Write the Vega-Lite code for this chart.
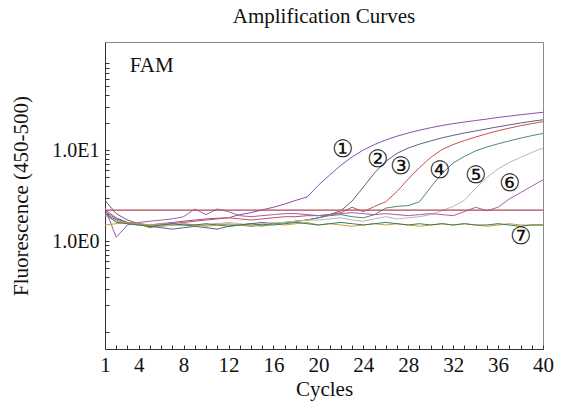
{
  "$schema": "https://vega.github.io/schema/vega-lite/v6.json",
  "width": 438,
  "height": 307,
  "autosize": {"type": "none"},
  "padding": {"left": 105, "top": 42, "right": 20, "bottom": 54},
  "background": "white",
  "config": {
    "font": "Liberation Serif",
    "view": {"stroke": "#8a8a8a", "strokeWidth": 1},
    "axis": {"grid": false, "domainColor": "#333333", "tickColor": "#333333", "labelColor": "#111111", "titleColor": "#111111", "labelFont": "Liberation Serif", "titleFont": "Liberation Serif", "titleFontWeight": "normal"}
  },
  "title": {"text": "Amplification Curves", "fontSize": 21, "fontWeight": "normal", "font": "Liberation Serif", "color": "#111111", "anchor": "middle", "offset": 15},
  "datasets": {
    "curves": [
      {"curve":"1","cycle":1,"f":2.1},{"curve":"1","cycle":2,"f":1.75},{"curve":"1","cycle":3,"f":1.6},{"curve":"1","cycle":4,"f":1.55},{"curve":"1","cycle":5,"f":1.5},{"curve":"1","cycle":6,"f":1.55},{"curve":"1","cycle":7,"f":1.6},{"curve":"1","cycle":8,"f":1.65},{"curve":"1","cycle":9,"f":1.7},{"curve":"1","cycle":10,"f":1.75},{"curve":"1","cycle":11,"f":1.78},{"curve":"1","cycle":12,"f":1.8},{"curve":"1","cycle":13,"f":1.95},{"curve":"1","cycle":14,"f":2.05},{"curve":"1","cycle":15,"f":2.2},{"curve":"1","cycle":16,"f":2.35},{"curve":"1","cycle":17,"f":2.55},{"curve":"1","cycle":18,"f":2.8},{"curve":"1","cycle":19,"f":3.05},{"curve":"1","cycle":20,"f":4.1},{"curve":"1","cycle":21,"f":5.3},{"curve":"1","cycle":22,"f":6.8},{"curve":"1","cycle":23,"f":8.4},{"curve":"1","cycle":24,"f":10.0},{"curve":"1","cycle":25,"f":11.5},{"curve":"1","cycle":26,"f":12.9},{"curve":"1","cycle":27,"f":14.2},{"curve":"1","cycle":28,"f":15.4},{"curve":"1","cycle":29,"f":16.5},{"curve":"1","cycle":30,"f":17.6},{"curve":"1","cycle":31,"f":18.6},{"curve":"1","cycle":32,"f":19.5},{"curve":"1","cycle":33,"f":20.3},{"curve":"1","cycle":34,"f":21.1},{"curve":"1","cycle":35,"f":21.9},{"curve":"1","cycle":36,"f":22.8},{"curve":"1","cycle":37,"f":23.6},{"curve":"1","cycle":38,"f":24.4},{"curve":"1","cycle":39,"f":25.2},{"curve":"1","cycle":40,"f":26.0},
      {"curve":"2","cycle":1,"f":2.8},{"curve":"2","cycle":2,"f":2.0},{"curve":"2","cycle":3,"f":1.7},{"curve":"2","cycle":4,"f":1.55},{"curve":"2","cycle":5,"f":1.45},{"curve":"2","cycle":6,"f":1.4},{"curve":"2","cycle":7,"f":1.35},{"curve":"2","cycle":8,"f":1.4},{"curve":"2","cycle":9,"f":1.45},{"curve":"2","cycle":10,"f":1.4},{"curve":"2","cycle":11,"f":1.35},{"curve":"2","cycle":12,"f":1.45},{"curve":"2","cycle":13,"f":1.5},{"curve":"2","cycle":14,"f":1.55},{"curve":"2","cycle":15,"f":1.6},{"curve":"2","cycle":16,"f":1.55},{"curve":"2","cycle":17,"f":1.6},{"curve":"2","cycle":18,"f":1.65},{"curve":"2","cycle":19,"f":1.7},{"curve":"2","cycle":20,"f":1.8},{"curve":"2","cycle":21,"f":1.95},{"curve":"2","cycle":22,"f":2.15},{"curve":"2","cycle":23,"f":2.75},{"curve":"2","cycle":24,"f":3.9},{"curve":"2","cycle":25,"f":5.6},{"curve":"2","cycle":26,"f":7.5},{"curve":"2","cycle":27,"f":9.2},{"curve":"2","cycle":28,"f":10.5},{"curve":"2","cycle":29,"f":11.6},{"curve":"2","cycle":30,"f":12.6},{"curve":"2","cycle":31,"f":13.6},{"curve":"2","cycle":32,"f":14.5},{"curve":"2","cycle":33,"f":15.4},{"curve":"2","cycle":34,"f":16.2},{"curve":"2","cycle":35,"f":17.1},{"curve":"2","cycle":36,"f":18.0},{"curve":"2","cycle":37,"f":18.9},{"curve":"2","cycle":38,"f":19.8},{"curve":"2","cycle":39,"f":20.7},{"curve":"2","cycle":40,"f":21.5},
      {"curve":"3","cycle":1,"f":2.2},{"curve":"3","cycle":2,"f":1.8},{"curve":"3","cycle":3,"f":1.6},{"curve":"3","cycle":4,"f":1.55},{"curve":"3","cycle":5,"f":1.4},{"curve":"3","cycle":6,"f":1.5},{"curve":"3","cycle":7,"f":1.55},{"curve":"3","cycle":8,"f":1.6},{"curve":"3","cycle":9,"f":1.65},{"curve":"3","cycle":10,"f":1.7},{"curve":"3","cycle":11,"f":1.75},{"curve":"3","cycle":12,"f":1.8},{"curve":"3","cycle":13,"f":1.75},{"curve":"3","cycle":14,"f":1.7},{"curve":"3","cycle":15,"f":1.75},{"curve":"3","cycle":16,"f":1.8},{"curve":"3","cycle":17,"f":1.85},{"curve":"3","cycle":18,"f":1.85},{"curve":"3","cycle":19,"f":1.9},{"curve":"3","cycle":20,"f":1.9},{"curve":"3","cycle":21,"f":1.95},{"curve":"3","cycle":22,"f":2.05},{"curve":"3","cycle":23,"f":2.35},{"curve":"3","cycle":24,"f":2.1},{"curve":"3","cycle":25,"f":2.4},{"curve":"3","cycle":26,"f":2.7},{"curve":"3","cycle":27,"f":3.5},{"curve":"3","cycle":28,"f":4.8},{"curve":"3","cycle":29,"f":6.4},{"curve":"3","cycle":30,"f":8.3},{"curve":"3","cycle":31,"f":10.1},{"curve":"3","cycle":32,"f":11.5},{"curve":"3","cycle":33,"f":12.7},{"curve":"3","cycle":34,"f":13.9},{"curve":"3","cycle":35,"f":15.1},{"curve":"3","cycle":36,"f":16.3},{"curve":"3","cycle":37,"f":17.4},{"curve":"3","cycle":38,"f":18.5},{"curve":"3","cycle":39,"f":19.5},{"curve":"3","cycle":40,"f":20.5},
      {"curve":"4","cycle":1,"f":2.0},{"curve":"4","cycle":2,"f":1.7},{"curve":"4","cycle":3,"f":1.55},{"curve":"4","cycle":4,"f":1.5},{"curve":"4","cycle":5,"f":1.45},{"curve":"4","cycle":6,"f":1.45},{"curve":"4","cycle":7,"f":1.5},{"curve":"4","cycle":8,"f":1.5},{"curve":"4","cycle":9,"f":1.45},{"curve":"4","cycle":10,"f":1.5},{"curve":"4","cycle":11,"f":1.55},{"curve":"4","cycle":12,"f":1.5},{"curve":"4","cycle":13,"f":1.5},{"curve":"4","cycle":14,"f":1.45},{"curve":"4","cycle":15,"f":1.5},{"curve":"4","cycle":16,"f":1.55},{"curve":"4","cycle":17,"f":1.6},{"curve":"4","cycle":18,"f":1.65},{"curve":"4","cycle":19,"f":1.7},{"curve":"4","cycle":20,"f":1.8},{"curve":"4","cycle":21,"f":1.9},{"curve":"4","cycle":22,"f":1.95},{"curve":"4","cycle":23,"f":1.85},{"curve":"4","cycle":24,"f":1.8},{"curve":"4","cycle":25,"f":1.95},{"curve":"4","cycle":26,"f":2.3},{"curve":"4","cycle":27,"f":2.4},{"curve":"4","cycle":28,"f":2.45},{"curve":"4","cycle":29,"f":2.7},{"curve":"4","cycle":30,"f":3.9},{"curve":"4","cycle":31,"f":5.5},{"curve":"4","cycle":32,"f":7.2},{"curve":"4","cycle":33,"f":8.5},{"curve":"4","cycle":34,"f":9.8},{"curve":"4","cycle":35,"f":10.8},{"curve":"4","cycle":36,"f":11.7},{"curve":"4","cycle":37,"f":12.6},{"curve":"4","cycle":38,"f":13.5},{"curve":"4","cycle":39,"f":14.4},{"curve":"4","cycle":40,"f":15.2},
      {"curve":"5","cycle":1,"f":1.9},{"curve":"5","cycle":2,"f":1.65},{"curve":"5","cycle":3,"f":1.55},{"curve":"5","cycle":4,"f":1.5},{"curve":"5","cycle":5,"f":1.5},{"curve":"5","cycle":6,"f":1.45},{"curve":"5","cycle":7,"f":1.5},{"curve":"5","cycle":8,"f":1.55},{"curve":"5","cycle":9,"f":1.5},{"curve":"5","cycle":10,"f":1.5},{"curve":"5","cycle":11,"f":1.55},{"curve":"5","cycle":12,"f":1.6},{"curve":"5","cycle":13,"f":1.55},{"curve":"5","cycle":14,"f":1.5},{"curve":"5","cycle":15,"f":1.55},{"curve":"5","cycle":16,"f":1.6},{"curve":"5","cycle":17,"f":1.6},{"curve":"5","cycle":18,"f":1.65},{"curve":"5","cycle":19,"f":1.7},{"curve":"5","cycle":20,"f":1.7},{"curve":"5","cycle":21,"f":1.75},{"curve":"5","cycle":22,"f":1.8},{"curve":"5","cycle":23,"f":1.7},{"curve":"5","cycle":24,"f":1.65},{"curve":"5","cycle":25,"f":1.75},{"curve":"5","cycle":26,"f":1.85},{"curve":"5","cycle":27,"f":1.75},{"curve":"5","cycle":28,"f":1.8},{"curve":"5","cycle":29,"f":1.85},{"curve":"5","cycle":30,"f":1.95},{"curve":"5","cycle":31,"f":2.15},{"curve":"5","cycle":32,"f":2.4},{"curve":"5","cycle":33,"f":2.8},{"curve":"5","cycle":34,"f":3.8},{"curve":"5","cycle":35,"f":5.0},{"curve":"5","cycle":36,"f":6.2},{"curve":"5","cycle":37,"f":7.3},{"curve":"5","cycle":38,"f":8.3},{"curve":"5","cycle":39,"f":9.4},{"curve":"5","cycle":40,"f":10.5},
      {"curve":"6","cycle":1,"f":2.3},{"curve":"6","cycle":2,"f":1.1},{"curve":"6","cycle":3,"f":1.5},{"curve":"6","cycle":4,"f":1.6},{"curve":"6","cycle":5,"f":1.65},{"curve":"6","cycle":6,"f":1.7},{"curve":"6","cycle":7,"f":1.75},{"curve":"6","cycle":8,"f":1.85},{"curve":"6","cycle":9,"f":2.25},{"curve":"6","cycle":10,"f":1.95},{"curve":"6","cycle":11,"f":2.25},{"curve":"6","cycle":12,"f":2.1},{"curve":"6","cycle":13,"f":1.9},{"curve":"6","cycle":14,"f":1.85},{"curve":"6","cycle":15,"f":1.9},{"curve":"6","cycle":16,"f":1.95},{"curve":"6","cycle":17,"f":2.0},{"curve":"6","cycle":18,"f":2.0},{"curve":"6","cycle":19,"f":1.95},{"curve":"6","cycle":20,"f":1.9},{"curve":"6","cycle":21,"f":1.95},{"curve":"6","cycle":22,"f":2.0},{"curve":"6","cycle":23,"f":2.05},{"curve":"6","cycle":24,"f":2.0},{"curve":"6","cycle":25,"f":1.95},{"curve":"6","cycle":26,"f":2.0},{"curve":"6","cycle":27,"f":1.95},{"curve":"6","cycle":28,"f":1.9},{"curve":"6","cycle":29,"f":1.95},{"curve":"6","cycle":30,"f":2.0},{"curve":"6","cycle":31,"f":1.95},{"curve":"6","cycle":32,"f":1.9},{"curve":"6","cycle":33,"f":2.1},{"curve":"6","cycle":34,"f":2.35},{"curve":"6","cycle":35,"f":2.15},{"curve":"6","cycle":36,"f":2.35},{"curve":"6","cycle":37,"f":2.9},{"curve":"6","cycle":38,"f":3.4},{"curve":"6","cycle":39,"f":4.0},{"curve":"6","cycle":40,"f":4.7},
      {"curve":"7a","cycle":1,"f":1.5},{"curve":"7a","cycle":2,"f":1.55},{"curve":"7a","cycle":3,"f":1.6},{"curve":"7a","cycle":4,"f":1.55},{"curve":"7a","cycle":5,"f":1.5},{"curve":"7a","cycle":6,"f":1.55},{"curve":"7a","cycle":7,"f":1.5},{"curve":"7a","cycle":8,"f":1.55},{"curve":"7a","cycle":9,"f":1.5},{"curve":"7a","cycle":10,"f":1.45},{"curve":"7a","cycle":11,"f":1.5},{"curve":"7a","cycle":12,"f":1.55},{"curve":"7a","cycle":13,"f":1.5},{"curve":"7a","cycle":14,"f":1.5},{"curve":"7a","cycle":15,"f":1.45},{"curve":"7a","cycle":16,"f":1.55},{"curve":"7a","cycle":17,"f":1.5},{"curve":"7a","cycle":18,"f":1.55},{"curve":"7a","cycle":19,"f":1.6},{"curve":"7a","cycle":20,"f":1.5},{"curve":"7a","cycle":21,"f":1.55},{"curve":"7a","cycle":22,"f":1.5},{"curve":"7a","cycle":23,"f":1.45},{"curve":"7a","cycle":24,"f":1.5},{"curve":"7a","cycle":25,"f":1.55},{"curve":"7a","cycle":26,"f":1.5},{"curve":"7a","cycle":27,"f":1.55},{"curve":"7a","cycle":28,"f":1.5},{"curve":"7a","cycle":29,"f":1.45},{"curve":"7a","cycle":30,"f":1.5},{"curve":"7a","cycle":31,"f":1.55},{"curve":"7a","cycle":32,"f":1.5},{"curve":"7a","cycle":33,"f":1.55},{"curve":"7a","cycle":34,"f":1.5},{"curve":"7a","cycle":35,"f":1.45},{"curve":"7a","cycle":36,"f":1.5},{"curve":"7a","cycle":37,"f":1.55},{"curve":"7a","cycle":38,"f":1.5},{"curve":"7a","cycle":39,"f":1.5},{"curve":"7a","cycle":40,"f":1.5},
      {"curve":"7b","cycle":1,"f":2.0},{"curve":"7b","cycle":2,"f":1.6},{"curve":"7b","cycle":3,"f":1.55},{"curve":"7b","cycle":4,"f":1.5},{"curve":"7b","cycle":5,"f":1.45},{"curve":"7b","cycle":6,"f":1.5},{"curve":"7b","cycle":7,"f":1.55},{"curve":"7b","cycle":8,"f":1.5},{"curve":"7b","cycle":9,"f":1.5},{"curve":"7b","cycle":10,"f":1.55},{"curve":"7b","cycle":11,"f":1.5},{"curve":"7b","cycle":12,"f":1.45},{"curve":"7b","cycle":13,"f":1.5},{"curve":"7b","cycle":14,"f":1.55},{"curve":"7b","cycle":15,"f":1.5},{"curve":"7b","cycle":16,"f":1.5},{"curve":"7b","cycle":17,"f":1.55},{"curve":"7b","cycle":18,"f":1.6},{"curve":"7b","cycle":19,"f":1.55},{"curve":"7b","cycle":20,"f":1.5},{"curve":"7b","cycle":21,"f":1.55},{"curve":"7b","cycle":22,"f":1.6},{"curve":"7b","cycle":23,"f":1.55},{"curve":"7b","cycle":24,"f":1.5},{"curve":"7b","cycle":25,"f":1.55},{"curve":"7b","cycle":26,"f":1.6},{"curve":"7b","cycle":27,"f":1.55},{"curve":"7b","cycle":28,"f":1.5},{"curve":"7b","cycle":29,"f":1.55},{"curve":"7b","cycle":30,"f":1.5},{"curve":"7b","cycle":31,"f":1.55},{"curve":"7b","cycle":32,"f":1.5},{"curve":"7b","cycle":33,"f":1.55},{"curve":"7b","cycle":34,"f":1.5},{"curve":"7b","cycle":35,"f":1.5},{"curve":"7b","cycle":36,"f":1.55},{"curve":"7b","cycle":37,"f":1.5},{"curve":"7b","cycle":38,"f":1.45},{"curve":"7b","cycle":39,"f":1.5},{"curve":"7b","cycle":40,"f":1.5}
    ],
    "labels": [
      {"label":"①","cycle":22.2,"f":10.0},
      {"label":"②","cycle":25.3,"f":7.77},
      {"label":"③","cycle":27.4,"f":6.55},
      {"label":"④","cycle":30.8,"f":5.93},
      {"label":"⑤","cycle":34.0,"f":5.18},
      {"label":"⑥","cycle":37.1,"f":4.23},
      {"label":"⑦","cycle":38.0,"f":1.1}
    ],
    "notes": [{"text":"FAM","cycle":3.2,"f":84}],
    "threshold": [{"f":2.19}]
  },
  "layer": [
    {
      "data": {"name": "curves"},
      "mark": {"type": "line", "strokeWidth": 1, "clip": true},
      "encoding": {
        "x": {"field": "cycle", "type": "quantitative",
              "scale": {"domain": [1, 40], "nice": false, "zero": false},
              "axis": {"title": "Cycles", "titleFontSize": 21, "titlePadding": 3, "labelFontSize": 21, "labelPadding": 9, "tickSize": -4, "tickCount": 40,
                       "values": [1,2,3,4,5,6,7,8,9,10,11,12,13,14,15,16,17,18,19,20,21,22,23,24,25,26,27,28,29,30,31,32,33,34,35,36,37,38,39,40],
                       "labelExpr": "datum.value == 1 || datum.value % 4 == 0 ? datum.label : ''",
                       "labelOverlap": false, "labelFlush": false}},
        "y": {"field": "f", "type": "quantitative",
              "scale": {"type": "log", "domain": [0.065, 154], "nice": false},
              "axis": {"title": "Fluorescence (450-500)", "titleFontSize": 21, "titlePadding": 20, "labelFontSize": 20, "labelPadding": 10, "tickSize": -4, "tickCount": 40,
                       "values": [0.1,0.2,0.3,0.4,0.5,0.6,0.7,0.8,0.9,1,2,3,4,5,6,7,8,9,10,20,30,40,50,60,70,80,90],
                       "labelExpr": "datum.value == 1 ? '1.0E0' : datum.value == 10 ? '1.0E1' : ''",
                       "labelOverlap": false}},
        "color": {"field": "curve", "type": "nominal", "legend": null,
                  "scale": {"domain": ["1","2","3","4","5","6","7a","7b"],
                            "range": ["#8a4fb3","#5d5f8e","#c4504f","#4f8a70","#b8b8b8","#a45cb0","#c9a23c","#3f7a52"]}},
        "order": {"field": "cycle", "type": "quantitative"}
      }
    },
    {
      "data": {"name": "threshold"},
      "mark": {"type": "rule", "color": "#b04856", "strokeWidth": 1.2},
      "encoding": {"y": {"field": "f", "type": "quantitative"}}
    },
    {
      "data": {"name": "labels"},
      "mark": {"type": "text", "fontSize": 24, "font": "DejaVu Serif", "color": "#111111", "align": "center", "baseline": "middle"},
      "encoding": {
        "x": {"field": "cycle", "type": "quantitative"},
        "y": {"field": "f", "type": "quantitative"},
        "text": {"field": "label"}
      }
    },
    {
      "data": {"name": "notes"},
      "mark": {"type": "text", "fontSize": 21, "font": "Liberation Serif", "color": "#111111", "align": "left", "baseline": "middle"},
      "encoding": {
        "x": {"field": "cycle", "type": "quantitative"},
        "y": {"field": "f", "type": "quantitative"},
        "text": {"field": "text"}
      }
    }
  ]
}
